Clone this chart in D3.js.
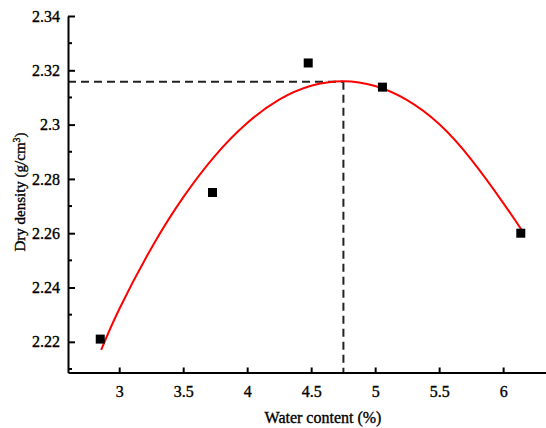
<!DOCTYPE html>
<html>
<head>
<meta charset="utf-8">
<script src="https://cdn.jsdelivr.net/npm/d3@7/dist/d3.min.js"></script>
<style>
  html, body { margin: 0; padding: 0; background: #fff; }
  svg { display: block; }
  text { font-family: "Liberation Serif", "Times New Roman", serif; fill: #000; stroke: #000; stroke-width: 0.35px; }
</style>
</head>
<body>
<svg id="chart" width="546" height="428"></svg>
<script>
// Measured data points
const waterContent = [2.852, 3.729, 4.477, 5.057, 6.138];
const dryDensity   = [2.221, 2.275, 2.3227, 2.3138, 2.260];

// Fitted curve
const fitX = [2.859, 3.0, 3.25, 3.5, 3.75, 4.0, 4.25, 4.5, 4.75, 5.0, 5.25, 5.5, 5.75, 6.0, 6.146];
const fitY = [2.2170, 2.2320, 2.2544, 2.2732, 2.2886, 2.3006, 2.3092, 2.3143, 2.3160, 2.3142, 2.3090, 2.3002, 2.2872, 2.2712, 2.2611];

// Optimum point (dashed guides)
const optWater = 4.752;
const optDensity = 2.3158;

// Axis ticks
const xTicks = [3, 3.5, 4, 4.5, 5, 5.5, 6];
const xTickLabels = ["3", "3.5", "4", "4.5", "5", "5.5", "6"];
const yTicks = [2.22, 2.24, 2.26, 2.28, 2.30, 2.32, 2.34];
const yTickLabels = ["2.22", "2.24", "2.26", "2.28", "2.3", "2.32", "2.34"];
const yMinorTicks = [2.21, 2.23, 2.25, 2.27, 2.29, 2.31, 2.33];

const xTitle = "Water content (%)";

const svg = d3.select("#chart");
const mLeft = 68, mRight = 546, mTop = 16, mBottom = 372.5;

const x = d3.scaleLinear().domain([2.6, 6.335]).range([mLeft, mRight]);
const y = d3.scaleLinear().domain([2.2087, 2.34]).range([mBottom, mTop]);

// Dashed guides
svg.append("line")
  .attr("x1", x(2.6)).attr("x2", x(optWater))
  .attr("y1", y(optDensity)).attr("y2", y(optDensity))
  .attr("stroke", "#222").attr("stroke-width", 2).attr("stroke-dasharray", "8,5");
svg.append("line")
  .attr("x1", x(optWater)).attr("x2", x(optWater))
  .attr("y1", y(optDensity)).attr("y2", mBottom)
  .attr("stroke", "#222").attr("stroke-width", 2).attr("stroke-dasharray", "8,5");

// Fit curve
const line = d3.line().x(d => x(d[0])).y(d => y(d[1])).curve(d3.curveNatural);
svg.append("path")
  .datum(fitX.map((v, i) => [v, fitY[i]]))
  .attr("d", line)
  .attr("fill", "none").attr("stroke", "#ff0000").attr("stroke-width", 2);

// Points
svg.selectAll("rect.pt")
  .data(waterContent.map((v, i) => [v, dryDensity[i]]))
  .enter().append("rect")
  .attr("class", "pt")
  .attr("x", d => x(d[0]) - 4.5).attr("y", d => y(d[1]) - 4.5)
  .attr("width", 9).attr("height", 9)
  .attr("fill", "#000");

// X axis
const xAxis = d3.axisBottom(x).tickValues(xTicks)
  .tickFormat((d, i) => xTickLabels[i]).tickSizeInner(-5).tickSizeOuter(0).tickPadding(13);
const gx = svg.append("g").attr("transform", `translate(0,${mBottom})`).call(xAxis);
gx.select(".domain").attr("stroke", "#000").attr("stroke-width", 2);
gx.selectAll(".tick line").attr("stroke", "#000").attr("stroke-width", 2);
gx.selectAll(".tick text").attr("font-size", 16).attr("font-family", "Liberation Serif");

// Y axis
const yAxis = d3.axisLeft(y).tickValues(yTicks)
  .tickFormat((d, i) => yTickLabels[i]).tickSizeInner(-7).tickSizeOuter(0).tickPadding(8);
const gy = svg.append("g").attr("transform", `translate(${mLeft},0)`).call(yAxis);
gy.select(".domain").attr("stroke", "#000").attr("stroke-width", 2);
gy.selectAll(".tick line").attr("stroke", "#000").attr("stroke-width", 2);
gy.selectAll(".tick text").attr("font-size", 16).attr("font-family", "Liberation Serif");

// Y minor ticks
gy.selectAll("line.minor").data(yMinorTicks).enter().append("line")
  .attr("class", "minor")
  .attr("x1", 0).attr("x2", 4)
  .attr("y1", d => y(d)).attr("y2", d => y(d))
  .attr("stroke", "#000").attr("stroke-width", 2);

// Titles
svg.append("text")
  .attr("x", 323).attr("y", 423)
  .attr("text-anchor", "middle").attr("font-size", 16)
  .text(xTitle);

const yt = svg.append("text")
  .attr("transform", "translate(25,192) rotate(-90)")
  .attr("text-anchor", "middle").attr("font-size", 15);
yt.append("tspan").text("Dry density (g/cm");
yt.append("tspan").attr("dy", -5).attr("font-size", 10).text("3");
yt.append("tspan").attr("dy", 5).text(")");
</script>
</body>
</html>
